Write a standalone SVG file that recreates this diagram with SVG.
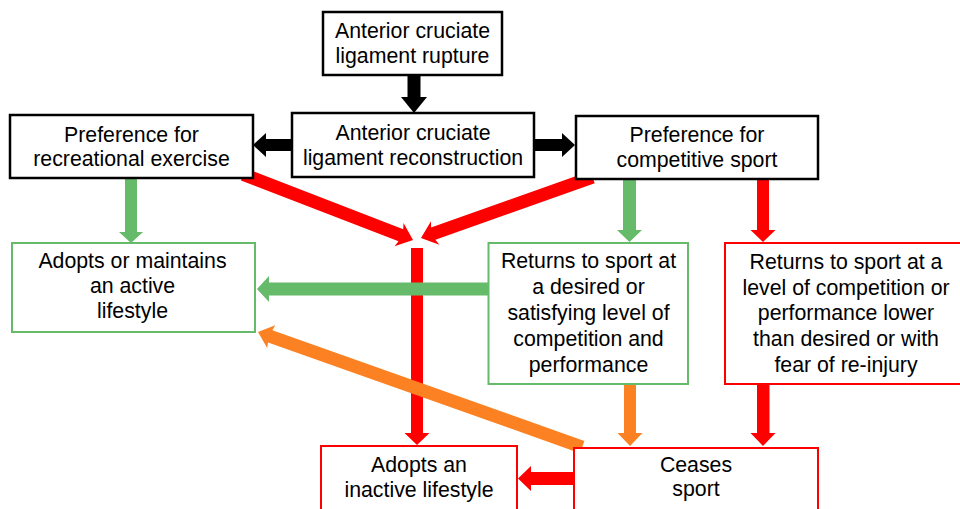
<svg xmlns="http://www.w3.org/2000/svg" width="960" height="509" viewBox="0 0 960 509">
<style>
.bk{fill:#fff;stroke:#000;stroke-width:2.5}
.gn{fill:#fff;stroke:#66BB6A;stroke-width:2}
.rd{fill:#fff;stroke:#FF0000;stroke-width:2}
.t{font-family:"Liberation Sans",Arial,sans-serif;font-size:21.3px;fill:#000;text-anchor:middle}
.aK{fill:#000}
.aG{fill:#66BB6A}
.aR{fill:#FF0000}
.aO{fill:#FB8122}
</style>
<rect width="960" height="509" fill="#fff"/>
<g id="connectors">
  <polygon class="aR" transform="translate(413,240) rotate(21.15)" points="-182,-6.5 -13,-6.5 -15,-12.5 0,0 -15,12.5 -13,6.5 -182,6.5"/>
  <polygon class="aR" transform="translate(421,238) rotate(160.45)" points="-182,-6.5 -13,-6.5 -15,-12.5 0,0 -15,12.5 -13,6.5 -182,6.5"/>
  <polygon class="aK" points="407.5,74 420.5,74 420.5,97 427,97 414,113 401,97 407.5,97"/>
  <polygon class="aK" points="535,139 562,139 562,133 575,145 562,157 562,151 535,151"/>
  <polygon class="aK" points="292,139 266,139 266,133 253,145 266,157 266,151 292,151"/>
  <polygon class="aG" points="125,178 137,178 137,232 143,232 131,243 119,232 125,232"/>
  <polygon class="aG" points="623,179 636,179 636,230 642,230 629.5,242 617,230 623,230"/>
  <polygon class="aR" points="757,179 769,179 769,230 775.5,230 763,242 750.5,230 757,230"/>
  <polygon class="aR" points="411,248 423,248 423,433 429.5,433 417,445 404.5,433 411,433"/>
  <polygon class="aG" points="489,282.5 269,282.5 269,276 257,289 269,302 269,295.5 489,295.5"/>
  <polygon class="aO" transform="translate(258,332) rotate(199.54)" points="-344,-6.5 -13,-6.5 -14,-12 0,0 -14,12 -13,6.5 -344,6.5"/>
  <polygon class="aO" points="624,384 636,384 636,433 642.5,433 630,446 617.5,433 624,433"/>
  <polygon class="aR" points="757,384 769.5,384 769.5,433 775.5,433 763,446 750.5,433 757,433"/>
  <polygon class="aR" points="575,472 531,472 531,466 518,478.5 531,491 531,485 575,485"/>
</g>
<g id="n_rupture">
  <rect class="bk" x="323" y="12" width="179" height="63"/>
  <text class="t" x="412.5" y="38">Anterior cruciate</text>
  <text class="t" x="412.5" y="63">ligament rupture</text>
</g>
<g id="n_reconstruction">
  <rect class="bk" x="292" y="113" width="242" height="64"/>
  <text class="t" x="413" y="140">Anterior cruciate</text>
  <text class="t" x="413" y="165">ligament reconstruction</text>
</g>
<g id="n_recreational">
  <rect class="bk" x="10" y="115" width="243" height="63"/>
  <text class="t" x="131.5" y="141.5">Preference for</text>
  <text class="t" x="131.5" y="166">recreational exercise</text>
</g>
<g id="n_competitive">
  <rect class="bk" x="576" y="116" width="242" height="63"/>
  <text class="t" x="697" y="141.5">Preference for</text>
  <text class="t" x="697" y="166.5">competitive sport</text>
</g>
<g id="n_active">
  <rect class="gn" x="12" y="243" width="243" height="89"/>
  <text class="t" x="132.5" y="268">Adopts or maintains</text>
  <text class="t" x="132.5" y="293">an active</text>
  <text class="t" x="132.5" y="318">lifestyle</text>
</g>
<g id="n_returns_desired">
  <rect class="gn" x="488.5" y="243" width="199.5" height="141"/>
  <text class="t" x="588.5" y="268">Returns to sport at</text>
  <text class="t" x="588.5" y="294">a desired or</text>
  <text class="t" x="588.5" y="320">satisfying level of</text>
  <text class="t" x="588.5" y="346">competition and</text>
  <text class="t" x="588.5" y="372">performance</text>
</g>
<g id="n_returns_lower">
  <rect class="rd" x="725" y="243" width="250" height="141"/>
  <text class="t" x="846" y="269">Returns to sport at a</text>
  <text class="t" x="846" y="295">level of competition or</text>
  <text class="t" x="846" y="320">performance lower</text>
  <text class="t" x="846" y="346">than desired or with</text>
  <text class="t" x="846" y="372">fear of re-injury</text>
</g>
<g id="n_inactive">
  <rect class="rd" x="321" y="446" width="196" height="80"/>
  <text class="t" x="419" y="472">Adopts an</text>
  <text class="t" x="419" y="497">inactive lifestyle</text>
</g>
<g id="n_ceases">
  <rect class="rd" x="574" y="448" width="244" height="80"/>
  <text class="t" x="696" y="472">Ceases</text>
  <text class="t" x="696" y="496">sport</text>
</g>
</svg>
